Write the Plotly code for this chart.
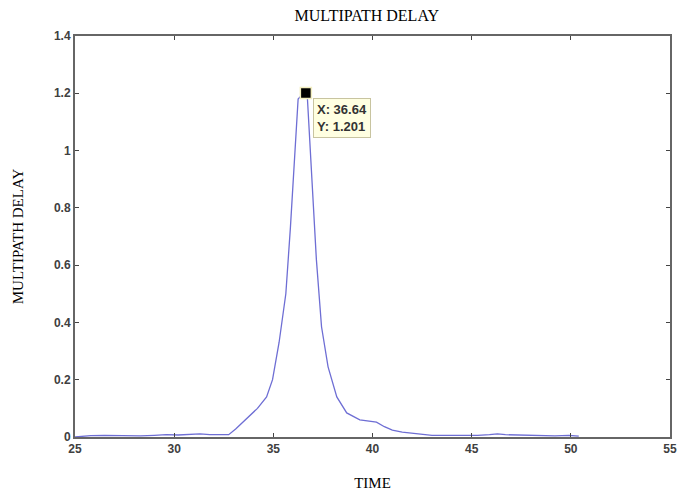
import plotly.graph_objects as go

time = [25.0, 25.8, 26.5, 27.5, 28.3, 29.0, 29.6, 30.2, 30.8, 31.3, 31.8, 32.4, 32.75,
        33.1, 33.46, 33.85, 34.2, 34.66, 34.96, 35.29, 35.63, 35.86, 36.07, 36.25, 36.45,
        36.64, 36.72, 36.8, 36.92, 37.17, 37.43, 37.76, 38.2, 38.7, 39.36, 39.8, 40.2,
        40.6, 41.0, 41.5, 42.0, 42.5, 43.0, 43.8, 44.6, 45.3, 45.9, 46.3, 46.7, 47.5,
        48.3, 49.2, 49.9, 50.4]
delay = [0.0, 0.005, 0.006, 0.005, 0.004, 0.006, 0.008, 0.007, 0.008, 0.011, 0.008, 0.008, 0.008,
         0.028, 0.052, 0.075, 0.10, 0.14, 0.20, 0.33, 0.50, 0.73, 0.97, 1.18, 1.195,
         1.201, 1.18, 1.08, 0.91, 0.62, 0.385, 0.245, 0.14, 0.084, 0.06, 0.055, 0.052,
         0.036, 0.024, 0.017, 0.013, 0.009, 0.006, 0.006, 0.005, 0.006, 0.008, 0.011, 0.008, 0.006,
         0.005, 0.004, 0.006, 0.003]

peak_x = [36.64]
peak_y = [1.201]
x_ticks = [25, 30, 35, 40, 45, 50, 55]
y_ticks = [0, 0.2, 0.4, 0.6, 0.8, 1.0, 1.2, 1.4]
y_tick_text = ["0", "0.2", "0.4", "0.6", "0.8", "1", "1.2", "1.4"]

fig = go.Figure()
fig.add_trace(go.Scatter(x=time, y=delay, mode="lines",
                         line=dict(color="#6e6ed4", width=1.3), showlegend=False))
fig.add_trace(go.Scatter(x=peak_x, y=peak_y, mode="markers",
                         marker=dict(symbol="square", size=11, color="black",
                                     line=dict(color="#f2eec0", width=1.5)),
                         showlegend=False))
fig.add_annotation(x=peak_x[0], y=peak_y[0], xref="x", yref="y",
                   text=f"<b>X: {peak_x[0]:.2f}<br>Y: {peak_y[0]:.3f}</b>",
                   showarrow=False, xanchor="left", yanchor="top",
                   xshift=7, yshift=-5, align="left",
                   font=dict(family="Arial, Liberation Sans", size=13, color="#333333"),
                   bgcolor="#ffffe1", bordercolor="#c8c4a0", borderwidth=1, borderpad=3)

axis_common = dict(showline=True, linecolor="#666666", linewidth=2, mirror="ticks",
                   ticks="inside", ticklen=4, tickcolor="#444444", showgrid=False,
                   zeroline=False,
                   tickfont=dict(family="Arial, Liberation Sans", size=12, color="#404040"))

fig.update_layout(
    width=694, height=498,
    margin=dict(l=67, r=32, t=28, b=69),
    paper_bgcolor="white", plot_bgcolor="white",
    title=dict(text="MULTIPATH DELAY", x=0.517, xanchor="center", y=0.985, yanchor="middle",
               font=dict(family="Liberation Serif, Times New Roman", size=16, color="black")),
    xaxis=dict(range=[25, 55], tickvals=x_ticks, ticktext=[f"<b>{v}</b>" for v in x_ticks],
               title=dict(text="TIME", standoff=22,
                          font=dict(family="Liberation Serif, Times New Roman", size=15, color="black")),
               **axis_common),
    yaxis=dict(range=[0, 1.4], tickvals=y_ticks, ticktext=[f"<b>{t}</b>" for t in y_tick_text],
               automargin=False,
               title=dict(text="MULTIPATH DELAY", standoff=27,
                          font=dict(family="Liberation Serif, Times New Roman", size=15, color="black")),
               **axis_common),
)
fig.write_html("out.html")
